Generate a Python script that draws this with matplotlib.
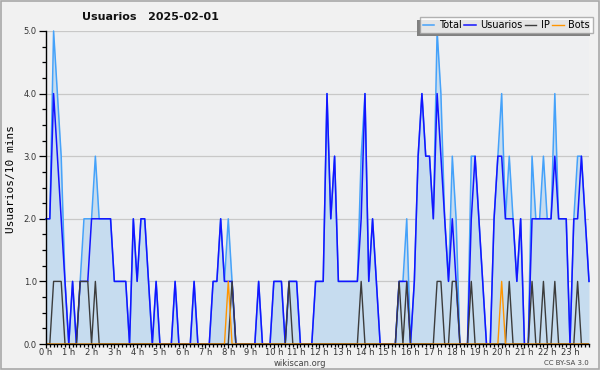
import numpy as np
import matplotlib.pyplot as plt
from matplotlib.patches import Rectangle

# 10-minute samples, 144 per day
hours = [f"{h} h" for h in range(24)]

total = [2, 2, 5, 4, 3, 1,  0, 1, 0, 1, 2, 2,  2, 3, 2, 2, 2, 2,  1, 1, 1, 1, 0, 2,
         1, 2, 2, 1, 0, 1,  0, 0, 0, 0, 1, 0,  0, 0, 0, 1, 0, 0,  0, 0, 1, 1, 2, 1,
         2, 1, 0, 0, 0, 0,  0, 0, 1, 0, 0, 0,  1, 1, 1, 0, 1, 1,  1, 0, 0, 0, 0, 1,
         1, 1, 4, 2, 3, 1,  1, 1, 1, 1, 1, 3,  4, 1, 2, 1, 0, 0,  0, 0, 0, 1, 1, 2,
         0, 1, 3, 4, 3, 3,  2, 5, 4, 2, 1, 3,  2, 0, 0, 0, 3, 3,  2, 1, 0, 0, 2, 3,
         4, 2, 3, 2, 1, 2,  0, 0, 3, 2, 2, 3,  2, 2, 4, 2, 2, 2,  0, 2, 3, 3, 2, 1]

usuarios = [2, 2, 4, 3, 2, 1,  0, 1, 0, 1, 1, 1,  2, 2, 2, 2, 2, 2,  1, 1, 1, 1, 0, 2,
            1, 2, 2, 1, 0, 1,  0, 0, 0, 0, 1, 0,  0, 0, 0, 1, 0, 0,  0, 0, 1, 1, 2, 1,
            1, 1, 0, 0, 0, 0,  0, 0, 1, 0, 0, 0,  1, 1, 1, 0, 1, 1,  1, 0, 0, 0, 0, 1,
            1, 1, 4, 2, 3, 1,  1, 1, 1, 1, 1, 2,  4, 1, 2, 1, 0, 0,  0, 0, 0, 1, 1, 1,
            0, 1, 3, 4, 3, 3,  2, 4, 3, 2, 1, 2,  1, 0, 0, 0, 2, 3,  2, 1, 0, 0, 2, 3,
            3, 2, 2, 2, 1, 2,  0, 0, 2, 2, 2, 2,  2, 2, 3, 2, 2, 2,  0, 2, 2, 3, 2, 1]

ip = [0, 0, 1, 1, 1, 0,  0, 0, 0, 1, 1, 1,  0, 1, 0, 0, 0, 0,  0, 0, 0, 0, 0, 0,
      0, 0, 0, 0, 0, 0,  0, 0, 0, 0, 0, 0,  0, 0, 0, 0, 0, 0,  0, 0, 0, 0, 0, 0,
      0, 1, 0, 0, 0, 0,  0, 0, 0, 0, 0, 0,  0, 0, 0, 0, 1, 0,  0, 0, 0, 0, 0, 0,
      0, 0, 0, 0, 0, 0,  0, 0, 0, 0, 0, 1,  0, 0, 0, 0, 0, 0,  0, 0, 0, 1, 0, 1,
      0, 0, 0, 0, 0, 0,  0, 1, 1, 0, 0, 1,  1, 0, 0, 0, 1, 0,  0, 0, 0, 0, 0, 0,
      0, 0, 1, 0, 0, 0,  0, 0, 1, 0, 0, 1,  0, 0, 1, 0, 0, 0,  0, 0, 1, 0, 0, 0]

bots = [0] * 144
bots[48] = 1
bots[120] = 1

x = np.arange(len(total)) / 6.0

fig = plt.figure(figsize=(6, 3.7), dpi=100, facecolor='#f1f1f1')
ax = fig.add_axes([46/600, 1 - 344/370, 543/600, 313/370])
ax.set_facecolor('#eeeff1')

ax.fill_between(x, total, color='#c6dcef', lw=0, zorder=1)
l_total, = ax.plot(x, total, color='#45a2fa', lw=1.1, zorder=2, clip_on=False)
l_users, = ax.plot(x, usuarios, color='#1414ff', lw=1.1, zorder=3, clip_on=False)
l_ip, = ax.plot(x, ip, color='#3c3c3c', lw=1.0, zorder=4)
l_bots, = ax.plot(x, bots, color='#ff9500', lw=1.0, zorder=5)

ax.set_xlim(0, x[-1])
ax.set_ylim(0, 5)
ax.set_xticks(np.arange(24))
ax.set_xticklabels(hours)
ax.set_xticks(x, minor=True)
ax.set_yticks(np.arange(6))
ax.set_yticklabels([f"{v:.1f}" for v in range(6)])
ax.set_yticks(np.arange(0, 5.01, 0.25), minor=True)
ax.tick_params(which='both', direction='out', colors='black', labelsize=6)
ax.tick_params(axis='x', which='major', length=3, width=0.9, pad=0)
ax.tick_params(axis='x', which='minor', length=2.5, width=0.9)
ax.tick_params(axis='y', which='major', length=5, width=0.9, pad=1.5)
ax.tick_params(axis='y', which='minor', length=3, width=0.9)
for lab in ax.get_xticklabels() + ax.get_yticklabels():
    lab.set_color('#333333')

ax.yaxis.grid(True, color='#c8c8c8', lw=0.9)
ax.set_axisbelow(True)
for s in ['top', 'right']:
    ax.spines[s].set_visible(False)
for s in ['left', 'bottom']:
    ax.spines[s].set_linewidth(1.0)
    ax.spines[s].set_zorder(6)

ax.set_ylabel('Usuarios/10 mins', family='DejaVu Sans Mono', fontsize=8)
ax.yaxis.set_label_coords((16 - 46) / 543, (344 - 179) / 313)

fig.text(150/600, 1 - 17/370, 'Usuarios   2025-02-01', ha='center', va='center',
         fontsize=8, fontweight='bold', color='#111111')
fig.text(300/600, 1 - 363/370, 'wikiscan.org', ha='center', va='center', fontsize=6, color='#444444')
fig.text(589/600, 1 - 363/370, 'CC BY-SA 3.0', ha='right', va='center', fontsize=5, color='#444444')

# legend, with a dark shadow shifted left/down
leg = fig.legend([l_total, l_users, l_ip, l_bots], ['Total', 'Usuarios', 'IP', 'Bots'],
                 ncol=4, loc='upper right',
                 bbox_to_anchor=(593/600, 1 - 17/370), fontsize=7, frameon=True,
                 fancybox=False, borderpad=0.3, handlelength=1.2, handletextpad=0.5,
                 columnspacing=0.2, borderaxespad=0)
leg.get_frame().set_edgecolor('#a0a0a0')
leg.get_frame().set_linewidth(1.0)
leg.get_frame().set_facecolor('white')
leg.set_zorder(6)

fig.canvas.draw()
bb = leg.get_window_extent()
fig.patches.append(Rectangle(((bb.x0 - 3) / 600, (bb.y0 - 3) / 370), bb.width / 600, bb.height / 370,
                             transform=fig.transFigure, facecolor='#808080',
                             edgecolor='none', zorder=5))

fig.patches.append(Rectangle((0.001, 0.002), 0.997, 0.996, transform=fig.transFigure,
                             facecolor='none', edgecolor='#a8a8a8', lw=1.2, zorder=10))

fig.savefig('out.png', dpi=100, facecolor=fig.get_facecolor())
